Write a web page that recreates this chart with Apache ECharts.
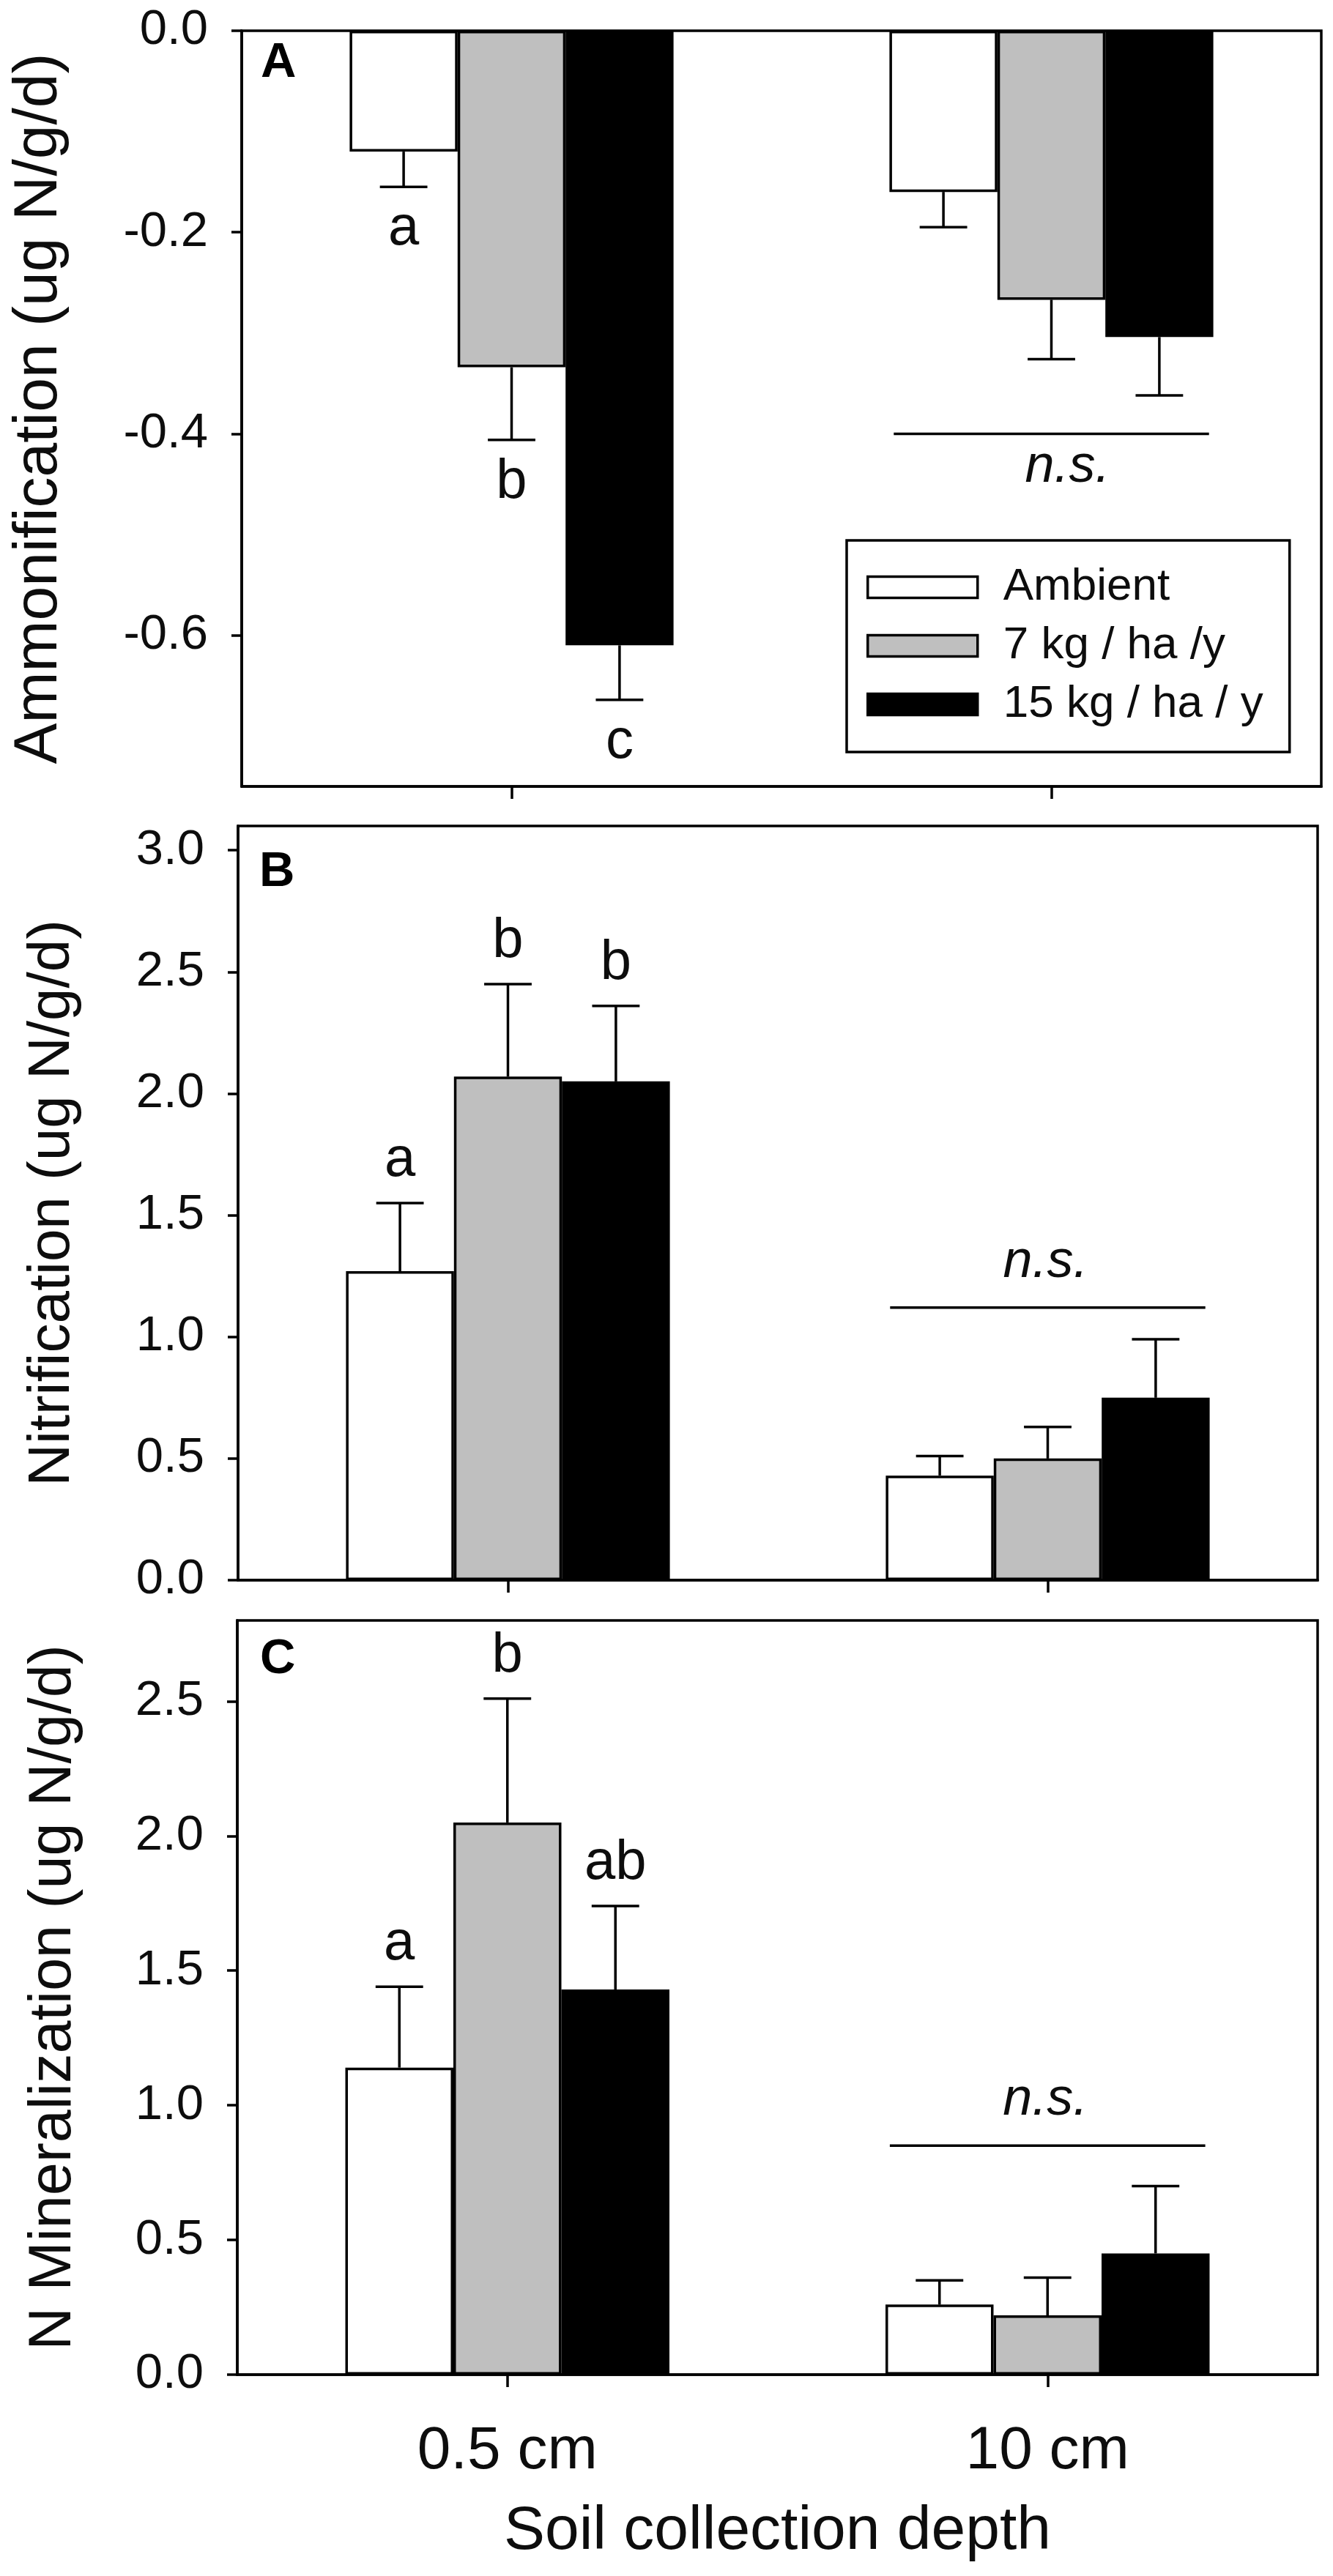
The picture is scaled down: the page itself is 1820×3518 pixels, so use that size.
<!DOCTYPE html>
<html>
<head>
<meta charset="utf-8">
<script src="https://cdn.jsdelivr.net/npm/echarts@6/dist/echarts.min.js"></script>
<style>
html,body{margin:0;padding:0;background:#fff;}
#chart{width:1820px;height:3518px;}
</style>
</head>
<body>
<div id="chart"></div>
<script>
// ---------- data ----------
const categories = ['0.5 cm', '10 cm'];
const seriesNames = ['Ambient', '7 kg / ha /y', '15 kg / ha / y'];

// Panel A: Ammonification
const ammAmbient = [-0.120, -0.160];
const amm7 = [-0.334, -0.267];
const amm15 = [-0.610, -0.304];
const ammAmbientErr = [0.035, 0.035];
const amm7Err = [0.072, 0.059];
const amm15Err = [0.054, 0.058];
const ammLetters = [['a', ''], ['b', ''], ['c', '']];
const ammTicks = [0, -0.2, -0.4, -0.6];

// Panel B: Nitrification
const nitAmbient = [1.27, 0.43];
const nit7 = [2.07, 0.50];
const nit15 = [2.05, 0.75];
const nitAmbientErr = [0.28, 0.08];
const nit7Err = [0.38, 0.13];
const nit15Err = [0.31, 0.24];
const nitLetters = [['a', ''], ['b', ''], ['b', '']];
const nitTicks = [0, 0.5, 1.0, 1.5, 2.0, 2.5, 3.0];

// Panel C: N Mineralization
const minAmbient = [1.14, 0.26];
const min7 = [2.05, 0.22];
const min15 = [1.43, 0.45];
const minAmbientErr = [0.30, 0.09];
const min7Err = [0.46, 0.14];
const min15Err = [0.31, 0.25];
const minLetters = [['a', ''], ['b', ''], ['ab', '']];
const minTicks = [0, 0.5, 1.0, 1.5, 2.0, 2.5];

// "n.s." annotations (category 10 cm): line level, text level
const nsLine = [-0.40, 1.12, 0.85];
const nsText = [-0.433, 1.305, 1.02];

const yTitles = ['Ammonification (ug N/g/d)', 'Nitrification (ug N/g/d)', 'N Mineralization (ug N/g/d)'];
const panelLabels = ['A', 'B', 'C'];
const xTitle = 'Soil collection depth';

// ---------- styling ----------
const FONT = '"Liberation Sans", Arial, Helvetica, sans-serif';
const TXT = '#0d0d0d';
const colors = ['#ffffff', '#bfbfbf', '#000000'];
const CAT_GAP = 0.40;
const LW = 3.5;

const panels = [
  {vals: [ammAmbient, amm7, amm15], errs: [ammAmbientErr, amm7Err, amm15Err], letters: ammLetters, ticks: ammTicks, min: -0.75, max: 0,
   grid: {left: 330, right: 16, top: 42, height: 1032}, nameGap: 234, nameSize: 84, label: [356, 87], nsDx: 22},
  {vals: [nitAmbient, nit7, nit15], errs: [nitAmbientErr, nit7Err, nit15Err], letters: nitLetters, ticks: nitTicks, min: 0, max: 3.1,
   grid: {left: 325, right: 21, top: 1128, height: 1030}, nameGap: 213, nameSize: 80, label: [354, 1192], nsDx: -3},
  {vals: [minAmbient, min7, min15], errs: [minAmbientErr, min7Err, min15Err], letters: minLetters, ticks: minTicks, min: 0, max: 2.8,
   grid: {left: 324, right: 21, top: 2213, height: 1030}, nameGap: 210, nameSize: 81, label: [355, 2267], nsDx: -3}
];

const grids = [], xAxes = [], yAxes = [], series = [], graphics = [];

panels.forEach(function (p, g) {
  grids.push(Object.assign({show: true, borderColor: '#000', borderWidth: LW, backgroundColor: 'transparent'}, p.grid));
  const isLast = g === panels.length - 1;
  xAxes.push({
    type: 'category', gridIndex: g, data: categories, boundaryGap: true,
    axisLine: {onZero: false, lineStyle: {color: '#000', width: LW}},
    axisTick: {show: true, alignWithLabel: true, length: 17, lineStyle: {color: '#000', width: LW}},
    axisLabel: {show: isLast, fontSize: 82, fontFamily: FONT, color: TXT, margin: 64},
    name: isLast ? xTitle : '', nameLocation: 'middle', nameGap: 173,
    nameTextStyle: {fontSize: 84, fontFamily: FONT, color: TXT},
    splitLine: {show: false}
  });
  yAxes.push({
    type: 'value', gridIndex: g, min: p.min, max: p.max,
    axisLine: {show: true, lineStyle: {color: '#000', width: LW}},
    axisTick: {show: true, length: 14, customValues: p.ticks, lineStyle: {color: '#000', width: LW}},
    axisLabel: {customValues: p.ticks, fontSize: 67, fontFamily: FONT, color: TXT, margin: 46,
      formatter: function (v) { return v.toFixed(1); }},
    splitLine: {show: false},
    name: yTitles[g], nameLocation: 'middle', nameGap: p.nameGap,
    nameTextStyle: {fontSize: p.nameSize, fontFamily: FONT, color: TXT}
  });
  p.vals.forEach(function (vals, s) {
    series.push({
      type: 'bar', name: seriesNames[s], xAxisIndex: g, yAxisIndex: g, data: vals,
      barGap: '0%', barCategoryGap: (CAT_GAP * 100) + '%',
      itemStyle: {color: colors[s], borderColor: '#000', borderWidth: LW},
      emphasis: {disabled: true}, z: 2
    });
  });
  p.vals.forEach(function (vals, s) {
    const errs = p.errs[s];
    const letters = p.letters[s];
    series.push({
      type: 'custom', name: 'err-' + g + '-' + s, xAxisIndex: g, yAxisIndex: g, z: 5, clip: false,
      data: vals.map(function (v, i) { return [i, v, errs[i]]; }),
      renderItem: function (params, api) {
        const cat = api.value(0), v = api.value(1), e = api.value(2);
        const band = api.size([1, 0])[0];
        const bw = band * (1 - CAT_GAP) / 3;
        const sgn = v < 0 ? -1 : 1;
        const p0 = api.coord([cat, v]);
        const p1 = api.coord([cat, v + sgn * e]);
        const x = p0[0] + (s - 1) * bw;
        const cap = bw * 0.22;
        const children = [
          {type: 'line', shape: {x1: x, y1: p0[1], x2: x, y2: p1[1]}, style: {stroke: '#000', lineWidth: LW}},
          {type: 'line', shape: {x1: x - cap, y1: p1[1], x2: x + cap, y2: p1[1]}, style: {stroke: '#000', lineWidth: LW}}
        ];
        const letter = letters[params.dataIndex];
        if (letter) {
          children.push({type: 'text', x: x, y: p1[1] - sgn * 58,
            style: {text: letter, font: '76px ' + FONT, fill: TXT, align: 'center', verticalAlign: 'middle'}});
        }
        return {type: 'group', children: children};
      }
    });
  });
  series.push({
    type: 'custom', name: 'ns-' + g, xAxisIndex: g, yAxisIndex: g, z: 5, clip: false,
    data: [[1, nsLine[g], nsText[g]]],
    renderItem: function (params, api) {
      const band = api.size([1, 0])[0];
      const bw = band * (1 - CAT_GAP) / 3;
      const pl = api.coord([api.value(0), api.value(1)]);
      const pt = api.coord([api.value(0), api.value(2)]);
      return {type: 'group', children: [
        {type: 'line', shape: {x1: pl[0] - 1.46 * bw, y1: pl[1], x2: pl[0] + 1.46 * bw, y2: pl[1]}, style: {stroke: '#000', lineWidth: LW}},
        {type: 'text', x: pt[0] + p.nsDx, y: pt[1], style: {text: 'n.s.', font: 'italic 72px ' + FONT, fill: TXT, align: 'center', verticalAlign: 'middle'}}
      ]};
    }
  });
  graphics.push({type: 'text', x: p.label[0], y: p.label[1], z: 10,
    style: {text: panelLabels[g], font: 'bold 67px ' + FONT, fill: '#000', align: 'left', verticalAlign: 'middle'}});
});

const chart = echarts.init(document.getElementById('chart'), null, {renderer: 'canvas'});
chart.setOption({
  animation: false,
  backgroundColor: '#fff',
  grid: grids,
  xAxis: xAxes,
  yAxis: yAxes,
  legend: {
    data: seriesNames, orient: 'vertical', left: 1156, top: 738,
    itemWidth: 150, itemHeight: 29, itemGap: 18, padding: [33, 36, 34, 27],
    borderColor: '#000', borderWidth: LW, selectedMode: false,
    icon: 'rect',
    formatter: function (name) { return '{t|' + name + '}'; },
    textStyle: {fontSize: 62, fontFamily: FONT, color: TXT,
      rich: {t: {fontSize: 62, fontFamily: FONT, color: TXT, padding: [0, 0, 0, 30]}}},
    itemStyle: {borderColor: '#000', borderWidth: LW}
  },
  graphic: graphics,
  series: series
});
</script>
</body>
</html>
